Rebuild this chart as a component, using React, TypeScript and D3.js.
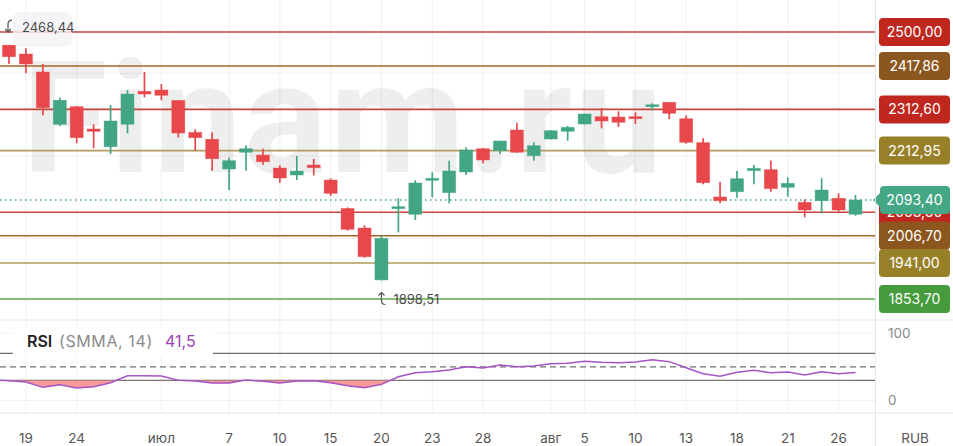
import React from "react";
import * as d3 from "d3";

// ---------- data ----------
const candleDates = [
  "2020-06-18","2020-06-19","2020-06-22","2020-06-23","2020-06-24","2020-06-25","2020-06-26",
  "2020-06-29","2020-06-30","2020-07-01","2020-07-02","2020-07-03","2020-07-06","2020-07-07",
  "2020-07-08","2020-07-09","2020-07-10","2020-07-13","2020-07-14","2020-07-15","2020-07-16",
  "2020-07-17","2020-07-20","2020-07-21","2020-07-22","2020-07-23","2020-07-24","2020-07-27",
  "2020-07-28","2020-07-29","2020-07-30","2020-07-31","2020-08-03","2020-08-04","2020-08-05",
  "2020-08-06","2020-08-07","2020-08-10","2020-08-11","2020-08-12","2020-08-13","2020-08-14",
  "2020-08-17","2020-08-18","2020-08-19","2020-08-20","2020-08-21","2020-08-24","2020-08-25",
  "2020-08-26","2020-08-27",
];
const opens = [2468.0,2446.7,2403.2,2276.6,2319.2,2265.2,2222.3,2276.6,2356.4,2359.6,2334.2,2257.2,2240.3,2168.4,2208.8,2202.2,2170.8,2153.8,2178.0,2141.7,2072.7,2025.5,1900.0,2072.3,2058.7,2141.7,2111.0,2161.1,2217.5,2212.7,2262.8,2200.6,2241.0,2259.6,2277.3,2295.0,2294.2,2295.0,2320.1,2329.8,2290.1,2232.2,2100.7,2113.4,2164.2,2166.7,2124.1,2087.7,2091.6,2097.4,2058.7];
const highs = [2468.44,2460.5,2422.5,2341.0,2320.9,2276.6,2323.3,2359.6,2403.2,2374.1,2335.4,2264.5,2257.2,2195.7,2225.7,2217.5,2177.3,2199.8,2192.6,2145.8,2075.2,2032.1,2006.2,2097.4,2141.0,2160.4,2188.5,2220.9,2219.2,2237.0,2280.4,2233.0,2262.0,2272.5,2302.5,2315.3,2308.0,2305.6,2327.4,2330.5,2298.4,2242.7,2137.6,2163.5,2178.0,2188.5,2148.3,2095.0,2145.8,2109.5,2105.4];
const lows = [2422.5,2400.0,2298.4,2272.5,2230.6,2218.5,2204.7,2254.8,2341.9,2334.7,2244.6,2212.7,2164.2,2117.5,2164.2,2178.8,2135.2,2141.7,2153.1,2103.0,2019.0,1953.6,1898.51,2015.1,2044.9,2099.9,2085.3,2154.0,2182.2,2204.0,2208.0,2188.5,2240.0,2236.9,2276.0,2266.9,2270.0,2277.3,2309.5,2288.7,2229.6,2131.3,2085.3,2098.9,2131.3,2113.4,2101.3,2051.4,2061.0,2065.0,2055.3];
const closes = [2440.2,2422.5,2316.8,2334.7,2244.1,2259.6,2284.6,2349.9,2349.9,2346.8,2255.5,2244.1,2193.3,2188.5,2217.5,2186.0,2146.6,2163.5,2171.5,2109.5,2022.4,1956.1,2000.6,2077.1,2134.5,2145.8,2163.5,2214.4,2190.2,2236.1,2208.8,2224.8,2261.1,2269.3,2301.5,2284.6,2281.4,2290.1,2324.0,2303.2,2233.0,2135.2,2091.6,2144.9,2170.0,2120.7,2133.8,2069.1,2117.5,2069.1,2093.4];

// RSI starts one session before the first visible candle
const rsiDates = ["2020-06-17", ...candleDates];
const rsiValues = [30.3,29.5,27.5,19.6,23.5,18.6,20.5,26.4,36.8,36.8,36.4,30.0,29.0,26.0,26.0,30.4,28.5,26.0,29.0,29.5,26.4,22.0,19.0,24.0,35.3,41.3,42.8,45.3,50.2,48.2,52.7,50.2,51.2,54.6,55.2,58.1,56.7,56.1,57.1,60.5,57.6,48.7,39.8,35.9,41.8,44.8,41.3,42.3,37.9,42.8,39.8,41.5];

const tickDates = ["2020-06-19","2020-06-24","2020-07-01","2020-07-07","2020-07-10","2020-07-15","2020-07-20","2020-07-23","2020-07-28","2020-08-03","2020-08-05","2020-08-10","2020-08-13","2020-08-18","2020-08-21","2020-08-26"];
const tickLabels = ["19","24","июл","7","10","15","20","23","28","авг","5","10","13","18","21","26"];

const levelValues = [2500.0, 2417.86, 2312.6, 2212.95, 2063.6, 2006.7, 1941.0, 1853.7];
const levelKinds = ["red","brown","red","olive","red","brown","olive","green"];
const priceGrid = [2000, 2200, 2400];
const lastPrice = 2093.4;
const rsiLevels = [70, 30];
const rsiMid = 50;

// ---------- styles ----------
const FONT = "Inter, 'Noto Sans', 'DejaVu Sans', sans-serif";
const lineColor: Record<string, string> = { red: "#c9453c", brown: "#a2672c", olive: "#b19b5d", green: "#5ca94f" };
const labelColor: Record<string, string> = { red: "#c0281f", brown: "#8c571e", olive: "#988028", green: "#469b3c" };
const UP = "#42a684";
const DOWN = "#e8484c";
const TEAL = "#44a786";
const GRID = "#f0f0f3";

const fmt = (v: number) => v.toFixed(2).replace(".", ",");

export default function App() {
  const W = 953, H = 446;
  const plotRight = 875;
  const mainTop = 0, mainBottom = 320;
  const rsiTop = 320, rsiBottom = 413;

  const x = d3.scalePoint<string>().domain(rsiDates).range([9 - 16.93, 855.5]);
  const y = d3.scaleLinear().domain([1853.7, 2500]).range([299, 32]);
  const ry = d3.scaleLinear().domain([0, 100]).range([400.6, 333]);

  const bodyW = 13;
  const candles = candleDates.map((d, i) => ({ d, o: opens[i], h: highs[i], l: lows[i], c: closes[i] }));

  const rsiData = rsiDates.map((d, i) => ({ d, v: rsiValues[i] }));
  const rsiLine = d3.line<{ d: string; v: number }>().x(p => x(p.d)!).y(p => ry(p.v));
  const rsiArea = d3.area<{ d: string; v: number }>().x(p => x(p.d)!).y0(ry(30)).y1(p => ry(p.v));

  const hiIdx = d3.maxIndex(highs);
  const loIdx = d3.minIndex(lows);
  const yHi = y(highs[hiIdx]);

  const yLast = y(lastPrice);

  return (
    <svg width={W} height={H} style={{ position: "absolute", left: 0, top: 0, background: "#fff" }} fontFamily={FONT}>
      <defs>
        <clipPath id="mainClip"><rect x={0} y={mainTop} width={plotRight} height={mainBottom - mainTop} /></clipPath>
        <clipPath id="rsiClip"><rect x={0} y={rsiTop} width={plotRight} height={rsiBottom - rsiTop} /></clipPath>
        <clipPath id="below30"><rect x={0} y={ry(30)} width={plotRight} height={rsiBottom - ry(30)} /></clipPath>
      </defs>
      <rect x={0} y={0} width={W} height={H} fill="#fff" />

      {/* vertical grid */}
      {tickDates.map(d => (
        <g key={"vg" + d}>
          <line x1={x(d)} x2={x(d)} y1={mainTop} y2={mainBottom} stroke={GRID} strokeWidth={1} />
          <line x1={x(d)} x2={x(d)} y1={rsiTop} y2={rsiBottom} stroke={GRID} strokeWidth={1} />
        </g>
      ))}
      {/* horizontal grid */}
      {priceGrid.map(p => (
        <line key={"hg" + p} x1={0} x2={plotRight} y1={y(p)} y2={y(p)} stroke={GRID} strokeWidth={1} />
      ))}
      {[0, 100].map(v => (
        <line key={"rg" + v} x1={0} x2={plotRight} y1={ry(v)} y2={ry(v)} stroke={GRID} strokeWidth={1} />
      ))}

      {/* watermark */}
      <text x={22} y={172} fontSize={156} fontWeight={700} letterSpacing={2.5} fill="#000" fillOpacity={0.065} fontFamily="Roboto, Inter, sans-serif">Finam.ru</text>

      {/* level lines */}
      <g clipPath="url(#mainClip)">
        {levelValues.map((v, i) => (
          <line key={"lv" + i} x1={0} x2={plotRight} y1={y(v)} y2={y(v)} stroke={lineColor[levelKinds[i]]} strokeWidth={1.6} />
        ))}
        <line x1={0} x2={plotRight} y1={yLast} y2={yLast} stroke={TEAL} strokeWidth={1.5} strokeDasharray="1.5 3.5" />

        {/* candles */}
        {candles.map(k => {
          const cx = x(k.d)!;
          const up = k.c >= k.o;
          const col = up ? UP : DOWN;
          const top = y(Math.max(k.o, k.c));
          const bot = y(Math.min(k.o, k.c));
          const bh = Math.max(2, bot - top);
          return (
            <g key={k.d}>
              <line x1={cx} x2={cx} y1={y(k.h)} y2={y(k.l)} stroke={col} strokeWidth={1.7} />
              <rect x={cx - bodyW / 2} y={top} width={bodyW} height={bh} fill={col} stroke={col} strokeOpacity={0.5} strokeWidth={0.8} />
            </g>
          );
        })}
      </g>

      {/* high marker */}
      <rect x={13} y={12} width={59} height={35} rx={7} fill="#f2f2f5" fillOpacity={0.8} />
      <path d={`M12 ${yHi - 25} Q8 ${yHi - 25} 8 ${yHi - 21} L8 ${yHi - 13} M5 ${yHi - 16} L8 ${yHi - 13} L11 ${yHi - 16}`}
        fill="none" stroke="#555" strokeWidth={1.2} />
      <text x={22} y={yHi - 13.5} fontSize={13} fill="#4a4a4a">{fmt(highs[hiIdx])}</text>

      {/* low marker */}
      {(() => {
        const lx = x(candleDates[loIdx])!;
        const ly = y(lows[loIdx]);
        return (
          <g>
            <path d={`M${lx - 3} ${ly + 15} L${lx} ${ly + 12} L${lx + 3} ${ly + 15} M${lx} ${ly + 12} L${lx} ${ly + 20} Q${lx} ${ly + 24} ${lx + 4} ${ly + 24}`}
              fill="none" stroke="#555" strokeWidth={1.2} />
            <text x={lx + 12} y={ly + 24} fontSize={13} fill="#4a4a4a">{fmt(lows[loIdx])}</text>
          </g>
        );
      })()}

      {/* price labels */}
      {levelValues.map((v, i) => (
        <g key={"pl" + i}>
          <rect x={879} y={y(v) - 14} width={71} height={28} rx={4} fill={labelColor[levelKinds[i]]} />
          <text x={914.5} y={y(v)} dy="0.36em" textAnchor="middle" fontSize={14} fill="#fff">{fmt(v)}</text>
        </g>
      ))}
      <g>
        <path d={`M873 ${yLast} L880 ${yLast - 7} L880 ${yLast - 10} Q880 ${yLast - 14} 884 ${yLast - 14} L946 ${yLast - 14} Q950 ${yLast - 14} 950 ${yLast - 10} L950 ${yLast + 10} Q950 ${yLast + 14} 946 ${yLast + 14} L884 ${yLast + 14} Q880 ${yLast + 14} 880 ${yLast + 10} L880 ${yLast + 7} Z`}
          fill={TEAL} />
        <text x={914.5} y={yLast} dy="0.36em" textAnchor="middle" fontSize={14} fill="#fff">{fmt(lastPrice)}</text>
      </g>

      {/* panel separators */}
      <line x1={0} x2={W} y1={rsiTop} y2={rsiTop} stroke="#e6e6ea" strokeWidth={1} />
      <line x1={0} x2={W} y1={rsiBottom} y2={rsiBottom} stroke="#e6e6ea" strokeWidth={1} />
      <line x1={plotRight + 0.5} x2={plotRight + 0.5} y1={0} y2={H} stroke="#e6e6ea" strokeWidth={1} />

      {/* RSI */}
      <g clipPath="url(#rsiClip)">
        {rsiLevels.map(v => (
          <line key={"rl" + v} x1={0} x2={plotRight} y1={ry(v)} y2={ry(v)} stroke="#6e6e6e" strokeWidth={1.3} />
        ))}
        <line x1={0} x2={plotRight} y1={ry(rsiMid)} y2={ry(rsiMid)} stroke="#6e6e6e" strokeWidth={1.3} strokeDasharray="6 4" />
        <g clipPath="url(#below30)">
          <path d={rsiArea(rsiData) || ""} fill="#f58e8e" fillOpacity={0.9} />
        </g>
        <path d={rsiLine(rsiData) || ""} fill="none" stroke="#a553c6" strokeWidth={1.5} />
      </g>
      <rect x={13} y={328} width={200} height={28} fill="#fff" />
      <text y={347} fontSize={16}>
        <tspan x={27} fontWeight={600} fill="#222">RSI</tspan>
        <tspan x={59} fill="#8a8a8a" letterSpacing={0.6}>(SMMA, 14)</tspan>
        <tspan x={165} fill="#9a3fb8">{rsiValues[rsiValues.length - 1].toFixed(1).replace(".", ",")}</tspan>
      </text>
      <text x={888} y={ry(100)} dy="0.36em" fontSize={13.5} fill="#8a8a95">100</text>
      <text x={888} y={ry(0)} dy="0.36em" fontSize={13.5} fill="#8a8a95">0</text>

      {/* x axis */}
      {tickDates.map((d, i) => (
        <text key={"xt" + d} x={x(d)} y={443} textAnchor="middle" fontSize={13.5} fill="#555">{tickLabels[i]}</text>
      ))}
      <text x={915} y={443} textAnchor="middle" fontSize={13.5} fill="#555">RUB</text>
    </svg>
  );
}
